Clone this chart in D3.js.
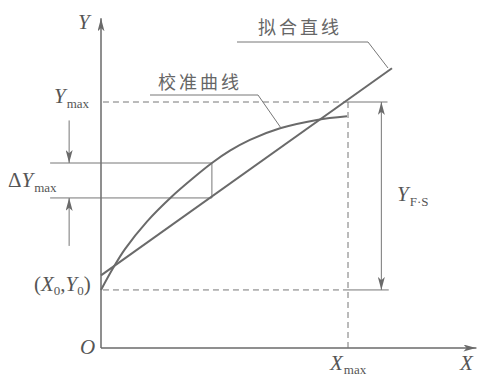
<!DOCTYPE html>
<html>
<head>
<meta charset="utf-8">
<script src="https://cdn.jsdelivr.net/npm/d3@7"></script>
<style>
  html, body { margin: 0; padding: 0; background: #fff; }
  svg { display: block; }
  .lab { font-family: "Liberation Serif", "DejaVu Serif", serif; fill: #555; }
  .cjk { font-family: "Noto Sans CJK SC", sans-serif; fill: #666; }
</style>
</head>
<body>
<svg id="chart" width="478" height="376"></svg>
<script>
// ---- data (in chart units: origin O = (0,0), Xmax = 100, Ymax = 100) ----
const xMax = 100;
const yMax = 100;
const y0 = 23.6;
const xAxisEnd = 152;
const yAxisEnd = 134;
// calibration curve (校准曲线)
const curveX = [0, 4.9, 9.7, 18.6, 28.7, 37.2, 44.9, 52.2, 60.3, 72.5, 87.4, 99.6];
const curveY = [23.6, 32.5, 40.2, 51.4, 61.6, 69.0, 75.2, 80.2, 84.6, 89.3, 92.7, 94.2];
// fitted straight line (拟合直线)
const fitX = [0, 117.8];
const fitY = [29.5, 113.7];
// max deviation ΔYmax location
const dyX = 44.9;
const dyTop = 75.2;
const dyBottom = 61.0;
const dyLeft = -20.6;
// label texts
const cjkLabels = ["校准曲线", "拟合直线"];

const svg = d3.select("#chart");
const x = d3.scaleLinear().domain([0, 100]).range([101, 348]);
const y = d3.scaleLinear().domain([0, 100]).range([348, 102]);

const lineCol = "#6a6a6a";
const thinCol = "#777";

const defs = svg.append("defs");
function marker(id, len, wid) {
  defs.append("marker")
    .attr("id", id).attr("viewBox", `0 0 ${len} ${wid}`)
    .attr("refX", len).attr("refY", wid / 2)
    .attr("markerWidth", len).attr("markerHeight", wid)
    .attr("markerUnits", "userSpaceOnUse")
    .attr("orient", "auto-start-reverse")
    .append("path")
    .attr("d", `M0,0 L${len},${wid / 2} L0,${wid} L${len * 0.25},${wid / 2} Z`)
    .attr("fill", lineCol);
}
marker("arrAxis", 13, 7);
marker("arrDim", 13, 7);

const line = d3.line().x(d => x(d[0])).y(d => y(d[1]));

// axes
svg.append("path").attr("d", line([[0, 0], [0, yAxisEnd]]))
  .attr("stroke", lineCol).attr("stroke-width", 1.5).attr("fill", "none")
  .attr("marker-end", "url(#arrAxis)");
svg.append("path").attr("d", line([[0, 0], [xAxisEnd, 0]]))
  .attr("stroke", lineCol).attr("stroke-width", 1.5).attr("fill", "none")
  .attr("marker-end", "url(#arrAxis)");

// dashed reference lines
const dash = "6,4";
svg.append("path").attr("d", line([[0.8, yMax], [xMax, yMax]]))
  .attr("stroke", thinCol).attr("stroke-width", 1).attr("stroke-dasharray", dash).attr("fill", "none");
svg.append("path").attr("d", line([[0.8, y0], [xMax, y0]]))
  .attr("stroke", thinCol).attr("stroke-width", 1).attr("stroke-dasharray", dash).attr("fill", "none");
svg.append("path").attr("d", line([[xMax, yMax], [xMax, 0]]))
  .attr("stroke", thinCol).attr("stroke-width", 1).attr("stroke-dasharray", dash).attr("fill", "none");

// solid extension lines for Y_F.S
const fsX = 113.5;
svg.append("path").attr("d", line([[xMax, yMax], [116, yMax]]))
  .attr("stroke", thinCol).attr("stroke-width", 1).attr("fill", "none");
svg.append("path").attr("d", line([[xMax, y0], [116.5, y0]]))
  .attr("stroke", thinCol).attr("stroke-width", 1).attr("fill", "none");
svg.append("path").attr("d", line([[fsX, yMax], [fsX, y0]]))
  .attr("stroke", thinCol).attr("stroke-width", 1).attr("fill", "none")
  .attr("marker-start", "url(#arrDim)").attr("marker-end", "url(#arrDim)");

// ΔYmax dimension lines
svg.append("path").attr("d", line([[dyLeft, dyTop], [dyX, dyTop]]))
  .attr("stroke", thinCol).attr("stroke-width", 1).attr("fill", "none");
svg.append("path").attr("d", line([[dyLeft, dyBottom], [dyX, dyBottom]]))
  .attr("stroke", thinCol).attr("stroke-width", 1).attr("fill", "none");
svg.append("path").attr("d", line([[dyX, dyTop], [dyX, dyBottom]]))
  .attr("stroke", thinCol).attr("stroke-width", 1).attr("fill", "none");
const arrX = -12.9;
svg.append("path").attr("d", line([[arrX, 92.5], [arrX, dyTop]]))
  .attr("stroke", thinCol).attr("stroke-width", 1).attr("fill", "none")
  .attr("marker-end", "url(#arrDim)");
svg.append("path").attr("d", line([[arrX, 41.5], [arrX, dyBottom]]))
  .attr("stroke", thinCol).attr("stroke-width", 1).attr("fill", "none")
  .attr("marker-end", "url(#arrDim)");

// fitted line
svg.append("path").attr("d", line(fitX.map((v, i) => [v, fitY[i]])))
  .attr("stroke", lineCol).attr("stroke-width", 2).attr("fill", "none");

// calibration curve
const curve = d3.line().x(d => x(d[0])).y(d => y(d[1])).curve(d3.curveCatmullRom.alpha(0.5));
svg.append("path").attr("d", curve(curveX.map((v, i) => [v, curveY[i]])))
  .attr("stroke", lineCol).attr("stroke-width", 2).attr("fill", "none");

// leader lines for CJK labels
svg.append("path").attr("d", "M150,95 L258,95 L281,128")
  .attr("stroke", thinCol).attr("stroke-width", 1).attr("fill", "none");
svg.append("path").attr("d", "M237,42 L368,42 L388,68")
  .attr("stroke", thinCol).attr("stroke-width", 1).attr("fill", "none");

svg.append("text").attr("class", "cjk").attr("x", 158).attr("y", 89)
  .attr("font-size", 18).attr("letter-spacing", 3).text(cjkLabels[0]);
svg.append("text").attr("class", "cjk").attr("x", 258).attr("y", 34)
  .attr("font-size", 18).attr("letter-spacing", 3).text(cjkLabels[1]);

// math labels
function sub(xp, yp, main, subTxt, opts = {}) {
  const t = svg.append("text").attr("class", "lab").attr("x", xp).attr("y", yp).attr("font-size", 21);
  if (opts.prefix) t.append("tspan").text(opts.prefix);
  t.append("tspan").attr("font-style", "italic").text(main);
  if (subTxt) t.append("tspan").attr("font-size", 13).attr("dy", opts.dy || 5).attr("dx", 1).text(subTxt);
  return t;
}
sub(78, 29, "Y");
sub(54, 103, "Y", "max");
sub(8, 187, "Y", "max", { prefix: "Δ" });
sub(80, 354, "O");
sub(330, 370, "X", "max", { dy: 4 });
sub(460, 370, "X");
sub(397, 201, "Y", "F·S");

// (X0,Y0)
const t0 = svg.append("text").attr("class", "lab").attr("x", 34).attr("y", 291).attr("font-size", 21);
t0.append("tspan").text("(");
t0.append("tspan").attr("font-style", "italic").text("X");
t0.append("tspan").attr("font-size", 13).attr("dy", 4).text("0");
t0.append("tspan").attr("dy", -4).text(",");
t0.append("tspan").attr("font-style", "italic").text("Y");
t0.append("tspan").attr("font-size", 13).attr("dy", 4).text("0");
t0.append("tspan").attr("dy", -4).text(")");
</script>
</body>
</html>
